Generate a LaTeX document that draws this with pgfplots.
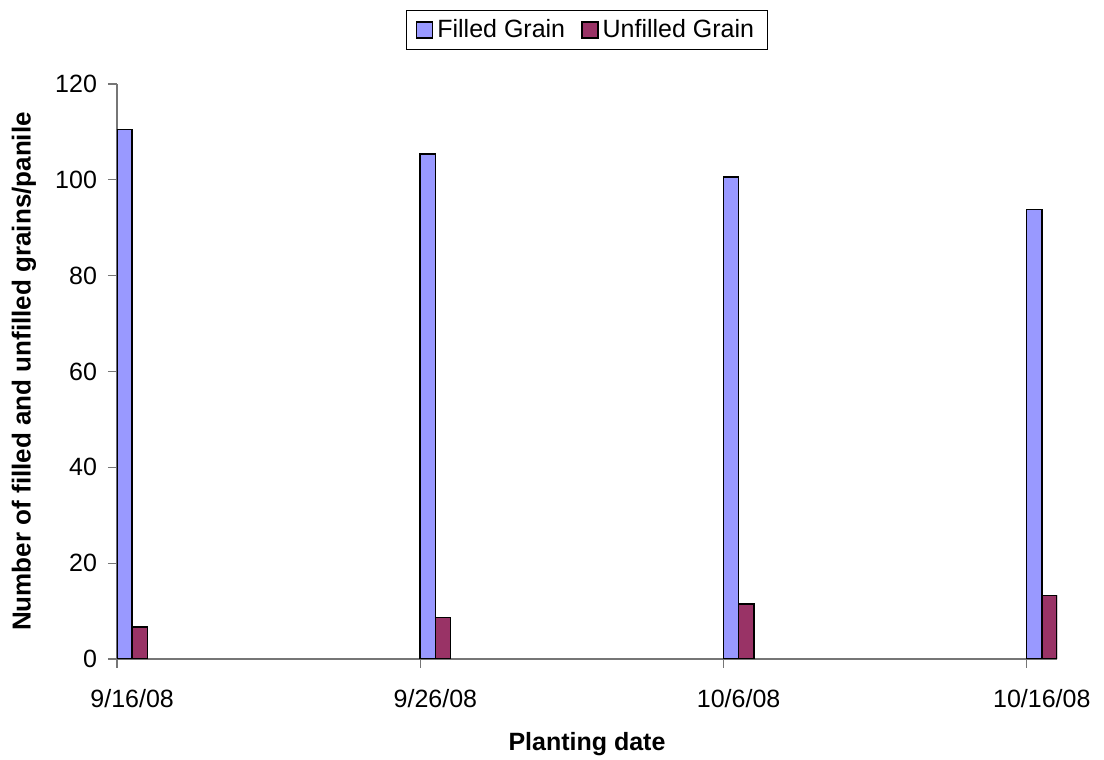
\documentclass[border=0pt]{standalone}
\usepackage{pgfplots}
\pgfplotsset{compat=1.18}
\usepackage{fontspec}
\setmainfont{Liberation Sans}

\definecolor{filled}{HTML}{9999FF}
\definecolor{unfilled}{HTML}{993366}
\definecolor{axisgray}{HTML}{767676}

\begin{document}
\begin{tikzpicture}
\begin{axis}[
    at={(0pt,0pt)}, anchor=south west,
    scale only axis,
    width=470pt, height=287.5pt,
    font=\fontsize{12.5}{15}\selectfont,
    axis lines=left,
    axis line style={-, draw=axisgray, line width=0.6pt},
    xtick style={draw=axisgray, line width=0.6pt},
    ytick style={draw=axisgray, line width=0.6pt},
    tick align=outside,
    major tick length=4.5pt,
    xmin=0, xmax=31,
    ymin=0, ymax=120,
    ytick={0,20,...,120},
    xtick={0,10,20,30},
    xticklabels={},
    extra x ticks={0.5,10.5,20.5,30.5},
    extra x tick labels={9/16/08,9/26/08,10/6/08,10/16/08},
    extra x tick style={major tick length=0pt,
        tick label style={anchor=north, yshift=-11.5pt}},
    yticklabel style={anchor=east, xshift=-2pt},
    /pgf/number format/assume math mode=true,
    ybar, bar width=0.5,
    xlabel={\bfseries Planting date},
    ylabel={\bfseries Number of filled and unfilled grains/panile},
    xlabel style={at={(axis description cs:0.5,0)}, anchor=center, yshift=-42.5pt},
    ylabel style={at={(axis description cs:0,0.5)}, anchor=center, yshift=46.5pt,
        font=\fontsize{13}{15}\selectfont},
    legend columns=2,
    legend style={at={(axis description cs:0.5,1.0939)}, anchor=center,
        draw=black, line width=0.6pt, inner xsep=4.5pt, inner ysep=2.5pt,
        /tikz/every even column/.append style={column sep=6pt}},
    legend image code/.code={\draw[#1] (-1pt,-4pt) rectangle (7pt,4pt);},
    legend cell align=left,
]
\addplot[fill=filled, draw=black, line width=0.75pt, bar shift=0.25] coordinates
    {(0,110.5) (10,105.4) (20,100.6) (30,93.8)};
\addplot[fill=unfilled, draw=black, line width=0.75pt, bar shift=0.75] coordinates
    {(0,6.7) (10,8.7) (20,11.5) (30,13.3)};
\legend{Filled Grain,Unfilled Grain}
\end{axis}
\pgfresetboundingbox
\path[use as bounding box] (-58.5pt,-50.5pt) rectangle (493.5pt,329.5pt);
\end{tikzpicture}
\end{document}
